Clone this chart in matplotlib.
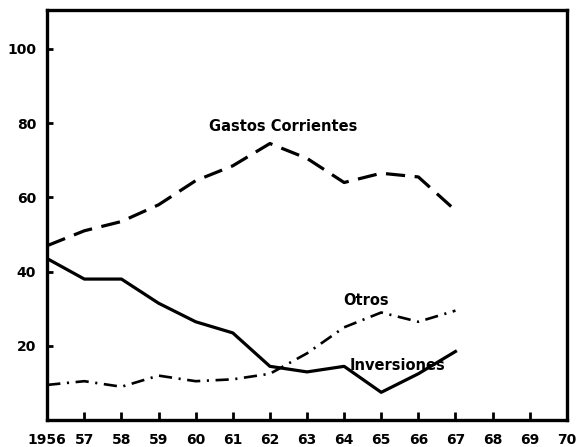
import matplotlib.pyplot as plt

# shares (%) by year, 1956-1967
years = [1956, 1957, 1958, 1959, 1960, 1961, 1962, 1963, 1964, 1965, 1966, 1967]
gastos_corrientes = [47.0, 51.0, 53.5, 58.0, 64.5, 68.5, 74.5, 70.5, 64.0, 66.5, 65.5, 56.5]
inversiones = [43.5, 38.0, 38.0, 31.5, 26.5, 23.5, 14.5, 13.0, 14.5, 7.5, 12.5, 18.5]
otros = [9.5, 10.5, 9.0, 12.0, 10.5, 11.0, 12.5, 18.0, 25.0, 29.0, 26.5, 29.5]

xtick_pos = list(range(1956, 1971))
xtick_lab = ['1956'] + [str(y)[2:] for y in range(1957, 1971)]
ytick_pos = [20, 40, 60, 80, 100]

fig = plt.figure(figsize=(5.76, 4.47), dpi=100)
ax = fig.add_axes([0.082, 0.06, 0.902, 0.918])

ax.plot(years, gastos_corrientes, color='black', lw=2.3, linestyle=(0, (6, 3)))
ax.plot(years, inversiones, color='black', lw=2.3)
ax.plot(years, otros, color='black', lw=1.9, linestyle=(0, (5, 2.5, 0.8, 2.5)))

ax.text(1962.35, 79.0, 'Gastos Corrientes', fontsize=10.5, fontweight='bold', ha='center', va='center')
ax.text(1964.6, 32.3, 'Otros', fontsize=10.5, fontweight='bold', ha='center', va='center')
ax.text(1965.45, 14.6, 'Inversiones', fontsize=10.5, fontweight='bold', ha='center', va='center')

ax.set_xlim(1956, 1970)
ax.set_ylim(0, 110.5)
ax.set_xticks(xtick_pos)
ax.set_xticklabels(xtick_lab, fontsize=10, fontweight='bold')
ax.set_yticks(ytick_pos)
ax.set_yticklabels([str(v) for v in ytick_pos], fontsize=10, fontweight='bold')
ax.tick_params(axis='x', direction='in', length=6, width=2, pad=9)
ax.tick_params(axis='y', direction='in', length=4, width=2, pad=8)

for s in ax.spines.values():
    s.set_linewidth(2.4)

plt.savefig('out.png', dpi=100)
